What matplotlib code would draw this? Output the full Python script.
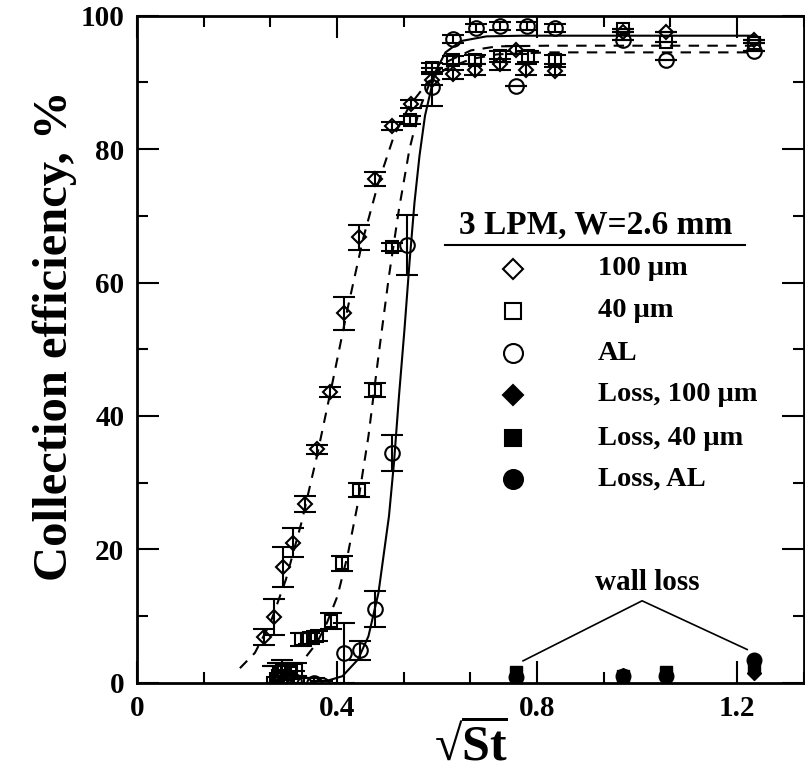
import numpy as np
import matplotlib.pyplot as plt
from matplotlib.ticker import MultipleLocator

plt.rcParams['font.family'] = ['Liberation Serif', 'DejaVu Serif']
plt.rcParams['font.weight'] = 'bold'
plt.rcParams['axes.labelweight'] = 'bold'
plt.rcParams['mathtext.fontset'] = 'custom'
plt.rcParams['mathtext.rm'] = 'Liberation Serif:bold'
plt.rcParams['mathtext.bf'] = 'Liberation Serif:bold'

# 100 um particles (open diamonds)
d100_x = [0.255, 0.274, 0.293, 0.313, 0.336, 0.361, 0.386, 0.414, 0.444, 0.476, 0.510,
          0.549, 0.589, 0.631, 0.676, 0.726, 0.758, 0.778, 0.836, 0.971, 1.058, 1.234]
d100_y = [6.9, 9.9, 17.3, 21.0, 26.8, 35.0, 43.6, 55.4, 66.8, 75.5, 83.5,
          86.8, 90.4, 91.2, 91.9, 92.7, 94.9, 91.9, 91.7, 97.6, 97.6, 96.4]
d100_e = [1.2, 2.7, 3.0, 2.2, 1.2, 0.7, 0.7, 2.5, 1.9, 1.0, 0.6,
          0.6, 0.8, 0.7, 0.8, 0.8, 0.6, 0.8, 0.6, 0, 0, 0]

# 40 um particles (open squares)
d40_x = [0.272, 0.283, 0.291, 0.300, 0.308, 0.319, 0.329, 0.344, 0.360, 0.389, 0.411, 0.444,
         0.476, 0.510, 0.546, 0.589, 0.631, 0.676, 0.726, 0.782, 0.836, 0.971, 1.058, 1.234]
d40_y = [0.0, 1.0, 2.0, 0.5, 1.5, 2.0, 6.5, 6.7, 7.0, 9.2, 17.9, 28.9,
         43.9, 65.4, 84.4, 92.2, 93.4, 93.4, 93.9, 93.9, 93.4, 98.0, 96.1, 95.9]
d40_e = [2.5, 2.0, 1.5, 2.0, 1.5, 1.0, 1.0, 0.8, 0.8, 1.2, 1.1, 1.0,
         1.0, 0.6, 0.6, 0.7, 0.6, 0.7, 0.8, 0.8, 0.7, 0, 0, 0]

# AL particles (open circles)
al_x = [0.276, 0.288, 0.300, 0.314, 0.334, 0.355, 0.370, 0.396, 0.414, 0.446, 0.477, 0.511,
        0.540, 0.589, 0.631, 0.678, 0.726, 0.758, 0.779, 0.836, 0.971, 1.058, 1.234]
al_y = [-0.5, 0.5, -0.3, 0.3, -0.2, 0.0, -0.3, -1.3, 4.5, 4.9, 11.0, 34.5,
        65.7, 89.3, 96.5, 98.1, 98.4, 89.5, 98.5, 98.1, 96.3, 93.4, 94.7]
al_e = [3.0, 2.5, 2.0, 1.5, 1.0, 0.8, 0.6, 0.8, 4.5, 1.4, 2.7, 2.7,
        4.5, 2.9, 0.6, 0.6, 0.6, 0, 0.6, 0.6, 0, 0, 0]

# wall loss (filled symbols)
loss_x = [0.758, 0.971, 1.058, 1.234]
loss100_y = [1.0, 1.2, 1.3, 1.5]
loss40_y = [1.6, 1.0, 1.6, 2.5]
lossal_y = [0.9, 1.0, 1.1, 3.5]

# fitted curves
fit100_x = [0.206, 0.236, 0.267, 0.298, 0.329, 0.360, 0.391, 0.421, 0.452, 0.483, 0.514,
            0.545, 0.576, 0.617, 0.668, 0.720, 0.822, 1.028, 1.234]
fit100_y = [2.2, 4.5, 9.0, 15.5, 24.0, 34.0, 45.0, 56.0, 66.5, 75.0, 82.0,
            86.5, 89.5, 92.0, 93.5, 94.2, 94.5, 94.5, 94.5]
fit40_x = [0.339, 0.360, 0.380, 0.401, 0.421, 0.442, 0.463, 0.483, 0.504, 0.524, 0.545,
           0.565, 0.586, 0.617, 0.668, 0.720, 0.822, 1.028, 1.234]
fit40_y = [4.0, 6.0, 9.0, 13.0, 19.0, 27.0, 37.0, 49.0, 61.0, 71.0, 80.0,
           86.0, 90.0, 93.0, 94.8, 95.4, 95.5, 95.5, 95.5]
fital_x = [0.380, 0.411, 0.442, 0.463, 0.483, 0.504, 0.514, 0.524, 0.535, 0.545, 0.555,
           0.565, 0.576, 0.596, 0.617, 0.648, 0.699, 0.771, 1.234]
fital_y = [0.3, 1.0, 3.5, 7.0, 13.5, 25.0, 33.0, 43.0, 53.0, 63.0, 72.0,
           79.0, 85.0, 91.5, 94.5, 96.2, 96.9, 97.0, 97.0]

legend_labels = ['100 \u03bcm', '40 \u03bcm', 'AL', 'Loss, 100 \u03bcm', 'Loss, 40 \u03bcm', 'Loss, AL']

fig = plt.figure(figsize=(8.05, 7.84), dpi=100)
ax = fig.add_axes([0.170, 0.129, 0.829, 0.851])

ax.plot(fit100_x, fit100_y, 'k--', lw=1.5, dashes=(5, 4))
ax.plot(fit40_x, fit40_y, 'k--', lw=1.5, dashes=(5, 4))
ax.plot(fital_x, fital_y, 'k-', lw=1.5)

eb = dict(fmt='none', ecolor='k', elinewidth=1.5, capsize=8, capthick=1.5)
ax.errorbar(d100_x, d100_y, yerr=d100_e, **eb)
ax.errorbar(d40_x, d40_y, yerr=d40_e, **eb)
ax.errorbar(al_x, al_y, yerr=al_e, **eb)

mk = {'100': dict(marker='D', ms=7.5), '40': dict(marker='s', ms=9), 'AL': dict(marker='o', ms=10.5)}
ax.plot(d100_x, d100_y, ls='none', mfc='none', mec='k', mew=1.5, **mk['100'])
ax.plot(d40_x, d40_y, ls='none', mfc='none', mec='k', mew=1.5, **mk['40'])
ax.plot(al_x, al_y, ls='none', mfc='none', mec='k', mew=1.5, **mk['AL'])

ax.plot(loss_x, lossal_y, ls='none', color='k', **mk['AL'])
ax.plot(loss_x, loss40_y, ls='none', color='k', **mk['40'])
ax.plot(loss_x, loss100_y, ls='none', color='k', **mk['100'])

# wall loss annotation
ax.text(1.02, 15.1, 'wall loss', ha='center', va='center', fontsize=21)
ax.plot([0.772, 1.01, 1.22], [3.3, 12.3, 5.0], 'k-', lw=1.2)

ax.set_xlim(0, 1.334)
ax.set_ylim(0, 100)
ax.xaxis.set_major_locator(MultipleLocator(0.4))
ax.xaxis.set_minor_locator(MultipleLocator(0.4 / 3))
ax.yaxis.set_major_locator(MultipleLocator(20))
ax.yaxis.set_minor_locator(MultipleLocator(10))
ax.set_xticks([0, 0.4, 0.8, 1.2])
ax.set_xticklabels(['0', '0.4', '0.8', '1.2'])
ax.tick_params(which='both', direction='in', top=True, right=True, width=1.5,
               labelsize=21, pad=9)
ax.tick_params(which='major', length=16)
ax.tick_params(which='minor', length=8)
for s in ax.spines.values():
    s.set_linewidth(2)

ax.set_ylabel('Collection efficiency, %', fontsize=35, labelpad=1)
ax.yaxis.set_label_coords(-0.09, 0.52)
ax.set_xlabel('\u221a' + r'$\overline{\mathrm{St}}$', fontsize=36, labelpad=0)

# legend, laid out by hand in axes coordinates
rows_y = [0.621, 0.558, 0.494, 0.432, 0.367, 0.305]
styles = [('100', 'none'), ('40', 'none'), ('AL', 'none'),
          ('100', 'k'), ('40', 'k'), ('AL', 'k')]
for yy, (key, fc), lab in zip(rows_y, styles, legend_labels):
    m = dict(mk[key])
    m['ms'] = m['ms'] * 1.3
    ax.plot([0.564], [yy], ls='none', mfc=fc, mec='k', mew=1.5,
            transform=ax.transAxes, **m)
    ax.text(0.691, yy, lab, transform=ax.transAxes, ha='left', va='center',
            fontsize=20.5)
ax.text(0.687, 0.686, '3 LPM, W=2.6 mm', transform=ax.transAxes, ha='center',
        va='center', fontsize=24)
ax.plot([0.462, 0.912], [0.656, 0.656], 'k-', lw=1.5, transform=ax.transAxes,
        clip_on=False)

fig.savefig('out.png', dpi=100)
